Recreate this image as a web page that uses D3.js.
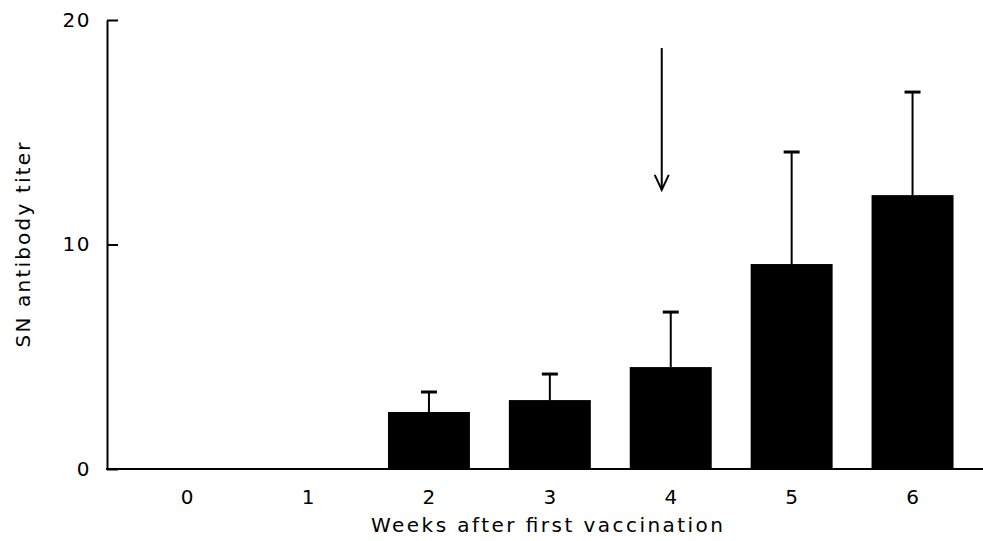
<!DOCTYPE html>
<html>
<head>
<meta charset="utf-8">
<script src="https://cdn.jsdelivr.net/npm/d3@7"></script>
<style>
  html, body { margin: 0; padding: 0; background: #fff; }
  svg { display: block; }
  text { font-family: "DejaVu Sans", sans-serif; fill: #000; }
</style>
</head>
<body>
<svg id="chart" width="983" height="541"></svg>
<script>
// ---- data ----
const weeks = ["0", "1", "2", "3", "4", "5", "6"];
const means = [0, 0, 2.54, 3.07, 4.54, 9.13, 12.2];
const upperErr = [0, 0, 3.43, 4.23, 6.99, 14.12, 16.79];
const yTicks = [0, 10, 20];
const xTitle = "Weeks after first vaccination";
const yTitle = "SN antibody titer";
const arrowWeek = "4";
const arrowFrom = 18.75;
const arrowTo = 12.43;

// ---- layout ----
const svg = d3.select("#chart");
const x = d3.scaleBand().domain(weeks).range([107, 992.7]).paddingInner(0.322).paddingOuter(0.324);
const y = d3.scaleLinear().domain([0, 20]).range([469, 20]);

// bars
svg.append("g").selectAll("rect")
  .data(weeks.map((w, i) => ({ w, v: means[i], e: upperErr[i] })).filter(d => d.v > 0))
  .join("rect")
  .attr("x", d => x(d.w))
  .attr("width", x.bandwidth())
  .attr("y", d => y(d.v))
  .attr("height", d => y(0) - y(d.v))
  .attr("fill", "#000");

// error bars (upper only)
const eb = svg.append("g").attr("stroke", "#000");
const ebData = weeks.map((w, i) => ({ w, v: means[i], e: upperErr[i] })).filter(d => d.e > d.v);
eb.selectAll("line.v").data(ebData).join("line")
  .attr("class", "v")
  .attr("x1", d => x(d.w) + x.bandwidth() / 2)
  .attr("x2", d => x(d.w) + x.bandwidth() / 2)
  .attr("y1", d => y(d.v))
  .attr("y2", d => y(d.e))
  .attr("stroke-width", 2);
eb.selectAll("line.c").data(ebData).join("line")
  .attr("class", "c")
  .attr("x1", d => x(d.w) + x.bandwidth() / 2 - 8)
  .attr("x2", d => x(d.w) + x.bandwidth() / 2 + 8)
  .attr("y1", d => y(d.e))
  .attr("y2", d => y(d.e))
  .attr("stroke-width", 3);

// y axis
const yAxis = d3.axisLeft(y).tickValues(yTicks).tickFormat(d3.format("d"))
  .tickSizeInner(-11).tickSizeOuter(0).tickPadding(16);
const gy = svg.append("g").attr("transform", "translate(107,0)").call(yAxis);
gy.attr("font-size", 20).attr("font-family", "DejaVu Sans");
gy.select(".domain").attr("stroke-width", 2);
gy.selectAll(".tick line").attr("stroke-width", 2);
gy.selectAll(".tick text").attr("font-size", 20).attr("letter-spacing", 1.5);

// baseline
svg.append("line")
  .attr("x1", 106).attr("x2", 983)
  .attr("y1", y(0)).attr("y2", y(0))
  .attr("stroke", "#000").attr("stroke-width", 2);

// x axis labels
const xAxis = d3.axisBottom(x).tickSize(0).tickPadding(21);
const gx = svg.append("g").attr("transform", `translate(0,${y(0)})`).call(xAxis);
gx.attr("font-size", 20).attr("font-family", "DejaVu Sans");
gx.select(".domain").remove();
gx.selectAll(".tick text").attr("font-size", 20);

// titles
svg.append("text")
  .attr("x", 547).attr("y", 532)
  .attr("text-anchor", "middle")
  .attr("font-size", 20)
  .attr("textLength", 352).attr("lengthAdjust", "spacing")
  .text(xTitle);

svg.append("text")
  .attr("transform", "translate(30,245) rotate(-90)")
  .attr("text-anchor", "middle")
  .attr("font-size", 20)
  .attr("textLength", 205).attr("lengthAdjust", "spacing")
  .text(yTitle);

// arrow annotation
const ax = x(arrowWeek) + x.bandwidth() / 2 - 9;
const ag = svg.append("g").attr("stroke", "#000").attr("fill", "none").attr("stroke-width", 2);
ag.append("line").attr("x1", ax).attr("x2", ax).attr("y1", y(arrowFrom)).attr("y2", y(arrowTo));
ag.append("path")
  .attr("d", d3.line()([[ax - 7, y(arrowTo) - 15], [ax, y(arrowTo)], [ax + 7, y(arrowTo) - 15]]));
</script>
</body>
</html>
